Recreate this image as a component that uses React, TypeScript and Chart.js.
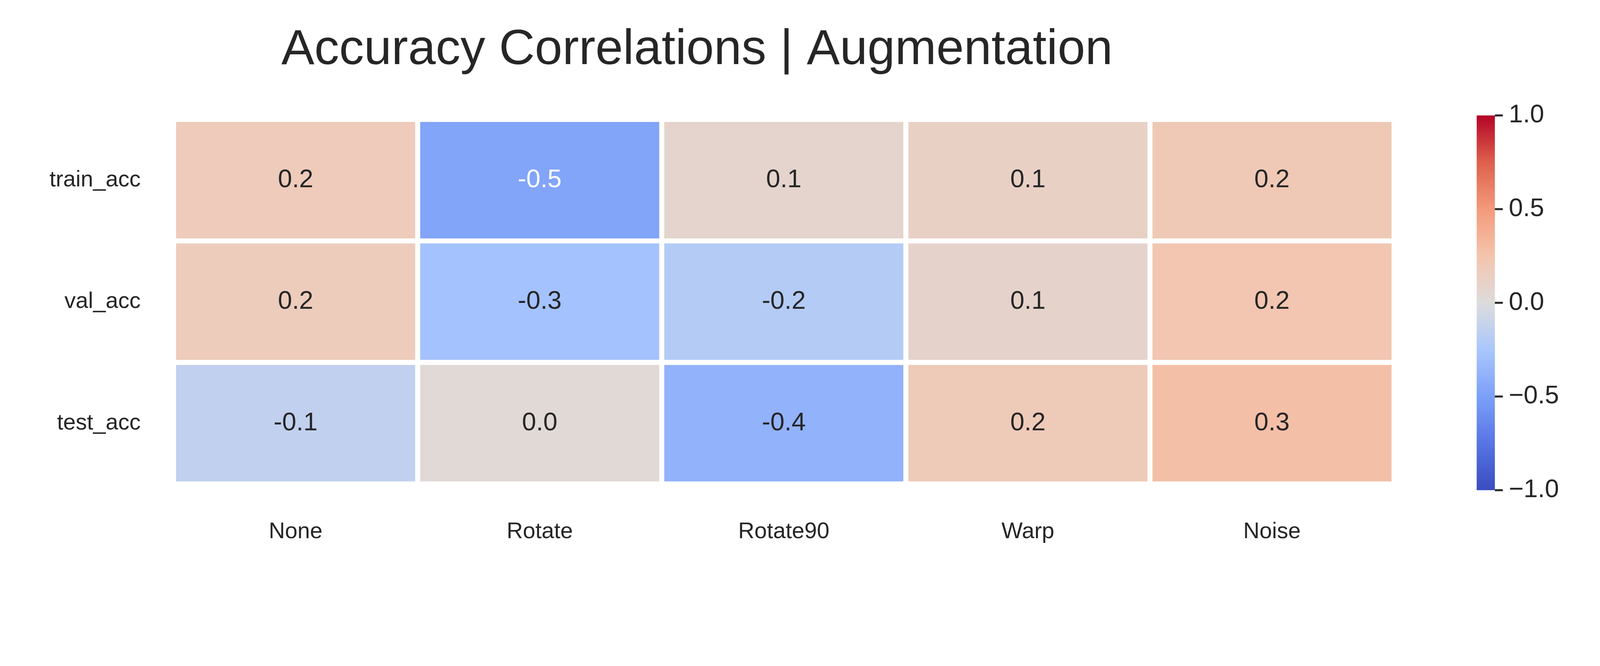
import React, { useEffect, useRef } from "react";
import { Chart, registerables } from "chart.js";

Chart.register(...registerables);

const augmentations = ["None", "Rotate", "Rotate90", "Warp", "Noise"];
const metrics = ["train_acc", "val_acc", "test_acc"];
const trainAcc = [0.18, -0.47, 0.08, 0.12, 0.2];
const valAcc = [0.17, -0.28, -0.2, 0.09, 0.23];
const testAcc = [-0.14, 0.03, -0.38, 0.19, 0.28];
const rows = [trainAcc, valAcc, testAcc];
const cbarTicks = [1.0, 0.5, 0.0, -0.5, -1.0];

const FONT = "'Liberation Sans', Arial, sans-serif";
const TEXT = "#262626";

// coolwarm approximation
const stops: [number, number, number][] = [
    [58, 76, 192], [87, 117, 228], [124, 159, 249], [170, 199, 253],
    [221, 220, 220], [244, 196, 173], [244, 154, 123], [222, 96, 77], [180, 4, 38],
];
function rgb(v: number): [number, number, number] {
    const t = Math.min(1, Math.max(0, (v + 1) / 2)) * (stops.length - 1);
    const i = Math.min(stops.length - 2, Math.floor(t));
    const f = t - i;
    const a = stops[i], b = stops[i + 1];
    return [0, 1, 2].map((k) => Math.round(a[k] + (b[k] - a[k]) * f)) as any;
}
const css = (c: number[]) => `rgb(${c[0]},${c[1]},${c[2]})`;
function lum(c: number[]) {
    const l = c.map((x) => {
        const s = x / 255;
        return s <= 0.03928 ? s / 12.92 : Math.pow((s + 0.055) / 1.055, 2.4);
    });
    return 0.2126 * l[0] + 0.7152 * l[1] + 0.0722 * l[2];
}

function makeOverlay(s: number) {
    const CB = { left: 4467 * s, right: 4522 * s, top: 349 * s, bottom: 1482 * s };
    return {
        id: "overlay",
        afterDatasetsDraw(chart: any) {
            const ctx = chart.ctx;
            ctx.save();
            ctx.textAlign = "center";
            ctx.textBaseline = "middle";
            ctx.font = `${77 * s}px ${FONT}`;
            chart.data.datasets.forEach((ds: any, di: number) => {
                chart.getDatasetMeta(di).data.forEach((el: any, i: number) => {
                    const v = rows[di][i];
                    const c = rgb(v);
                    ctx.fillStyle = lum(c) > 0.408 ? TEXT : "#ffffff";
                    const p = el.getProps(["x", "y", "base"], true);
                    ctx.fillText(v.toFixed(1), p.x, (p.y + p.base) / 2);
                });
            });
            // colorbar
            const g = ctx.createLinearGradient(0, CB.bottom, 0, CB.top);
            for (let k = 0; k <= 40; k++) g.addColorStop(k / 40, css(rgb(-1 + (2 * k) / 40)));
            ctx.fillStyle = g;
            ctx.fillRect(CB.left, CB.top, CB.right - CB.left, CB.bottom - CB.top);
            ctx.strokeStyle = TEXT;
            ctx.lineWidth = 6 * s;
            ctx.fillStyle = TEXT;
            ctx.textAlign = "left";
            cbarTicks.forEach((t) => {
                const y = CB.bottom - ((t + 1) / 2) * (CB.bottom - CB.top);
                ctx.beginPath();
                ctx.moveTo(CB.right, y);
                ctx.lineTo(CB.right + 24 * s, y);
                ctx.stroke();
                ctx.fillText(t.toFixed(1).replace("-", "\u2212"), CB.right + 42 * s, y);
            });
            ctx.restore();
        },
    };
}

export default function App() {
    const canvasRef = useRef<HTMLCanvasElement | null>(null);
    const boxRef = useRef<HTMLDivElement | null>(null);

    useEffect(() => {
        document.body.style.margin = "0";
        if (!canvasRef.current || !boxRef.current) return;
        const W = window.innerWidth;
        const s = W / 4840;
        const H = 1704 * s;
        boxRef.current.style.width = W + "px";
        boxRef.current.style.height = H + "px";
        const datasets = rows.map((vals, r) => ({
            label: metrics[r],
            data: vals.map((v, i) => ({ x: augmentations[i], y: [r, r + 1] })),
            backgroundColor: vals.map((v) => css(rgb(v))),
            borderColor: "#ffffff",
            borderWidth: 8 * s,
            borderSkipped: false,
            categoryPercentage: 1,
            barPercentage: 1,
            grouped: false,
        }));
        const chart = new Chart(canvasRef.current, {
            type: "bar",
            data: { labels: augmentations, datasets } as any,
            plugins: [makeOverlay(s)],
            options: {
                animation: false,
                responsive: true,
                maintainAspectRatio: false,
                layout: { padding: { top: 63 * s, right: 623 * s, left: 0, bottom: 0 } },
                plugins: {
                    legend: { display: false },
                    tooltip: { enabled: false },
                    title: {
                        display: true,
                        text: "Accuracy Correlations | Augmentation",
                        color: TEXT,
                        font: { family: FONT, size: 150 * s, weight: "normal" },
                        padding: { top: 0, bottom: 118 * s },
                    },
                },
                scales: {
                    x: {
                        type: "category",
                        grid: { display: false },
                        border: { display: false },
                        ticks: { color: TEXT, font: { family: FONT, size: 68 * s }, padding: 95 * s },
                        afterFit: (sc: any) => { sc.height = (1704 - 1463) * s; },
                    },
                    y: {
                        type: "linear",
                        min: 0,
                        max: 3,
                        reverse: true,
                        grid: { display: false },
                        border: { display: false },
                        afterBuildTicks: (sc: any) => { sc.ticks = [0.5, 1.5, 2.5].map((v) => ({ value: v })); },
                        ticks: {
                            color: TEXT,
                            font: { family: FONT, size: 68 * s },
                            padding: 90 * s,
                            callback: (v: any) => metrics[Math.floor(Number(v))],
                        },
                        afterFit: (sc: any) => { sc.width = 525 * s; },
                    },
                },
            } as any,
        });
        return () => chart.destroy();
    }, []);

    return (
        <div ref={boxRef} style={{ position: "relative", background: "#ffffff" }}>
            <canvas ref={canvasRef}></canvas>
        </div>
    );
}
